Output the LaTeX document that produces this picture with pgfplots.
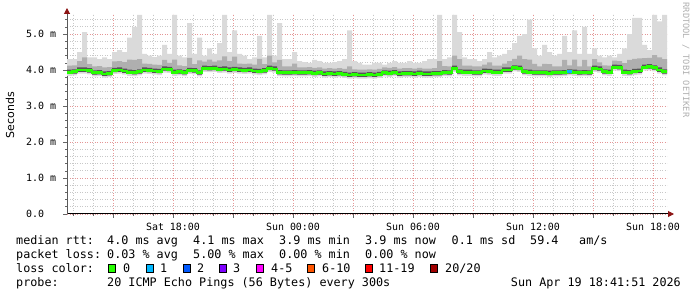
\documentclass[border=0pt]{standalone}
\usepackage{fontspec}
\setmainfont{DejaVu Sans Mono}
\newfontfamily\dvsans{DejaVu Sans}
\usepackage{pgfplots}
\pgfplotsset{compat=1.18}
\usepackage{pgfplotstable}
\usepgfplotslibrary{fillbetween}
\usetikzlibrary{arrows.meta}
\definecolor{smokeL}{RGB}{218,218,218}
\definecolor{smokeM}{RGB}{175,175,175}
\definecolor{smokeD}{RGB}{85,85,85}
\definecolor{lc0}{HTML}{26FF00}
\definecolor{lc1}{HTML}{00B8FF}
\definecolor{lc2}{HTML}{0059FF}
\definecolor{lc3}{HTML}{7E00FF}
\definecolor{lc4}{HTML}{FF00FF}
\definecolor{lc6}{HTML}{FF5500}
\definecolor{lc11}{HTML}{FF0000}
\definecolor{lc20}{HTML}{A10000}
\definecolor{mgrid}{RGB}{228,150,150}
\definecolor{mingrid}{RGB}{200,200,200}
\definecolor{arrowred}{RGB}{140,20,20}
\definecolor{wmark}{RGB}{175,175,175}

\pgfplotstableread{
x med lo dlo dk md hi
12.70 3.94 3.84 3.89 4.01 4.12 4.30
12.95 3.95 3.85 3.90 4.02 4.13 4.30
13.20 4.00 3.90 3.95 4.07 4.25 4.50
13.45 4.00 3.90 3.95 4.07 4.35 5.05
13.70 3.98 3.88 3.93 4.05 4.16 4.35
13.95 3.92 3.82 3.87 3.99 4.10 4.35
14.20 3.93 3.83 3.88 4.00 4.11 4.30
14.45 3.89 3.79 3.84 3.96 4.07 4.35
14.70 3.90 3.80 3.85 3.97 4.08 4.30
14.95 3.99 3.89 3.94 4.06 4.24 4.50
15.20 4.00 3.90 3.95 4.07 4.25 4.55
15.45 3.97 3.87 3.92 4.04 4.22 4.50
15.70 3.94 3.84 3.89 4.01 4.29 4.90
15.95 3.93 3.83 3.88 4.00 4.28 5.20
16.20 3.95 3.85 3.90 4.02 4.30 5.53
16.45 4.00 3.90 3.95 4.07 4.18 4.45
16.70 3.99 3.89 3.94 4.06 4.17 4.40
16.95 3.97 3.87 3.92 4.04 4.15 4.36
17.20 3.96 3.86 3.91 4.03 4.14 4.40
17.45 4.03 3.93 3.98 4.10 4.28 4.70
17.70 4.02 3.92 3.97 4.09 4.20 4.45
17.95 3.94 3.84 3.89 4.01 4.29 5.53
18.20 3.95 3.85 3.90 4.02 4.13 4.40
18.45 3.93 3.83 3.88 4.00 4.11 4.35
18.70 3.99 3.89 3.94 4.06 4.34 5.30
18.95 3.98 3.88 3.93 4.05 4.16 4.45
19.20 3.92 3.82 3.87 3.99 4.27 4.90
19.45 4.05 3.95 4.00 4.12 4.23 4.40
19.70 4.04 3.94 3.99 4.11 4.29 4.60
19.95 4.05 3.95 4.00 4.12 4.23 4.45
20.20 4.02 3.92 3.97 4.09 4.27 4.75
20.45 4.03 3.93 3.98 4.10 4.38 5.53
20.70 4.00 3.90 3.95 4.07 4.25 4.50
20.95 4.02 3.92 3.97 4.09 4.37 5.10
21.20 4.00 3.90 3.95 4.07 4.18 4.45
21.45 3.99 3.89 3.94 4.06 4.17 4.40
21.70 4.00 3.90 3.95 4.07 4.18 4.30
21.95 3.97 3.87 3.92 4.04 4.15 4.35
22.20 3.96 3.86 3.91 4.03 4.31 4.95
22.45 3.98 3.88 3.93 4.05 4.16 4.35
22.70 4.05 3.95 4.00 4.12 4.40 5.53
22.95 4.03 3.93 3.98 4.10 4.21 4.40
23.20 3.93 3.83 3.88 4.00 4.28 5.30
23.45 3.92 3.82 3.87 3.99 4.10 4.30
23.70 3.92 3.82 3.87 3.99 4.10 4.30
23.95 3.93 3.83 3.88 4.00 4.18 4.50
24.20 3.92 3.82 3.87 3.99 4.07 4.25
24.45 3.92 3.82 3.87 3.99 4.07 4.22
24.70 3.93 3.83 3.88 4.00 4.08 4.20
24.95 3.91 3.81 3.86 3.98 4.06 4.28
25.20 3.92 3.82 3.87 3.99 4.07 4.25
25.45 3.89 3.79 3.84 3.96 4.04 4.20
25.70 3.90 3.80 3.85 3.97 4.05 4.20
25.95 3.89 3.79 3.84 3.96 4.04 4.22
26.20 3.90 3.80 3.85 3.97 4.05 4.25
26.45 3.88 3.78 3.83 3.95 4.03 4.30
26.70 3.86 3.76 3.81 3.93 4.10 5.10
26.95 3.87 3.77 3.82 3.94 4.02 4.25
27.20 3.86 3.76 3.81 3.93 4.01 4.20
27.45 3.86 3.76 3.81 3.93 4.01 4.15
27.70 3.87 3.77 3.82 3.94 4.02 4.15
27.95 3.86 3.76 3.81 3.93 4.01 4.20
28.20 3.88 3.78 3.83 3.95 4.03 4.20
28.45 3.92 3.82 3.87 3.99 4.07 4.15
28.70 3.91 3.81 3.86 3.98 4.06 4.20
28.95 3.93 3.83 3.88 4.00 4.08 4.25
29.20 3.89 3.79 3.84 3.96 4.04 4.20
29.45 3.90 3.80 3.85 3.97 4.05 4.20
29.70 3.90 3.80 3.85 3.97 4.05 4.25
29.95 3.89 3.79 3.84 3.96 4.04 4.20
30.20 3.91 3.81 3.86 3.98 4.06 4.20
30.45 3.89 3.79 3.84 3.96 4.04 4.25
30.70 3.89 3.79 3.84 3.96 4.04 4.30
30.95 3.90 3.80 3.85 3.97 4.05 4.30
31.20 3.90 3.80 3.85 3.97 4.25 5.53
31.45 3.93 3.83 3.88 4.00 4.11 4.30
31.70 3.92 3.82 3.87 3.99 4.10 4.35
31.95 4.05 3.95 4.00 4.12 4.40 5.53
32.20 3.95 3.85 3.90 4.02 4.30 5.05
32.45 3.94 3.84 3.89 4.01 4.12 4.35
32.70 3.94 3.84 3.89 4.01 4.12 4.30
32.95 3.92 3.82 3.87 3.99 4.10 4.30
33.20 3.92 3.82 3.87 3.99 4.10 4.25
33.45 3.97 3.87 3.92 4.04 4.15 4.30
33.70 3.96 3.86 3.91 4.03 4.21 4.50
33.95 3.94 3.84 3.89 4.01 4.12 4.35
34.20 3.94 3.84 3.89 4.01 4.12 4.40
34.45 4.00 3.90 3.95 4.07 4.18 4.45
34.70 4.00 3.90 3.95 4.07 4.25 4.55
34.95 4.06 3.96 4.01 4.13 4.31 4.75
35.20 4.05 3.95 4.00 4.12 4.40 4.95
35.45 3.95 3.85 3.90 4.02 4.30 5.00
35.70 3.94 3.84 3.89 4.01 4.29 5.40
35.95 3.92 3.82 3.87 3.99 4.17 4.60
36.20 3.92 3.82 3.87 3.99 4.10 4.40
36.45 3.92 3.82 3.87 3.99 4.17 4.70
36.70 3.91 3.81 3.86 3.98 4.16 4.50
36.95 3.92 3.82 3.87 3.99 4.10 4.40
37.20 3.92 3.82 3.87 3.99 4.10 4.45
37.45 3.93 3.83 3.88 4.00 4.28 4.95
37.70 3.95 3.85 3.90 4.02 4.13 4.50
37.95 3.94 3.84 3.89 4.01 4.29 5.10
38.20 3.92 3.82 3.87 3.99 4.10 4.45
38.45 3.93 3.83 3.88 4.00 4.28 5.20
38.70 3.92 3.82 3.87 3.99 4.10 4.45
38.95 4.05 3.95 4.00 4.12 4.30 4.60
39.20 4.03 3.93 3.98 4.10 4.21 4.40
39.45 3.95 3.85 3.90 4.02 4.13 4.35
39.70 3.94 3.84 3.89 4.01 4.12 4.40
39.95 4.08 3.98 4.03 4.15 4.26 4.35
40.20 4.07 3.97 4.02 4.14 4.25 4.45
40.45 3.94 3.84 3.89 4.01 4.19 4.60
40.70 3.93 3.83 3.88 4.00 4.28 5.00
40.95 3.96 3.86 3.91 4.03 4.31 5.45
41.20 3.97 3.87 3.92 4.04 4.32 5.45
41.45 4.08 3.98 4.03 4.15 4.33 4.70
41.70 4.09 3.99 4.04 4.16 4.34 4.55
41.95 4.06 3.96 4.01 4.13 4.41 5.53
42.20 4.00 3.90 3.95 4.07 4.35 5.35
42.45 3.95 3.85 3.90 4.02 4.30 5.53
42.70 3.95 3.85 3.90 4.02 4.30 5.53
}\smoke

\pgfplotstableread{
x med
37.70 3.95
37.95 3.95
}\lossone

\begin{document}
\begin{tikzpicture}
\begin{axis}[
  at={(67bp,83bp)}, anchor=south west, scale only axis,
  width=600bp, height=200bp,
  xmin=12.7, xmax=42.7, ymin=0, ymax=5.556,
  axis x line=bottom, axis y line=left,
  every outer x axis line/.style={draw=black, line width=1bp, shorten >=-7bp, -{Triangle[length=6bp,width=6bp,color=arrowred]}},
  every outer y axis line/.style={draw=black!65, line width=1bp, shorten >=-6bp, -{Triangle[length=6bp,width=6bp,color=arrowred]}},
  xtick={15,18,21,24,27,30,33,36,39,42},
  xticklabels={,Sat 18:00,,Sun 00:00,,Sun 06:00,,Sun 12:00,,Sun 18:00},
  minor xtick={13,14,16,17,19,20,22,23,25,26,28,29,31,32,34,35,37,38,40,41},
  ytick={0,1,2,3,4,5},
  yticklabels={0.0,1.0 m,2.0 m,3.0 m,4.0 m,5.0 m},
  minor ytick={0.2,0.4,0.6,0.8,1.2,1.4,1.6,1.8,2.2,2.4,2.6,2.8,3.2,3.4,3.6,3.8,4.2,4.4,4.6,4.8,5.2,5.4},
  grid=both,
  major grid style={draw=mgrid, line width=0.8bp, dash pattern=on 1bp off 1.5bp},
  minor grid style={draw=mingrid, line width=0.8bp, dash pattern=on 1bp off 1.5bp},
  tick align=outside,
  major tick length=4bp, minor tick length=2bp,
  tick style={draw=black!60, line width=0.6bp},
  ticklabel style={font=\fontsize{10}{12}\selectfont, inner sep=0pt},
  yticklabel style={anchor=west, xshift=-37bp},
  xticklabel style={anchor=north, yshift=-5bp},
]
\addplot[name path=lo, draw=none, const plot, forget plot] table[x=x,y=lo]{\smoke};
\addplot[name path=hi, draw=none, const plot, forget plot] table[x=x,y=hi]{\smoke};
\addplot[name path=dlo, draw=none, const plot, forget plot] table[x=x,y=dlo]{\smoke};
\addplot[name path=md, draw=none, const plot, forget plot] table[x=x,y=md]{\smoke};
\addplot[name path=dk, draw=none, const plot, forget plot] table[x=x,y=dk]{\smoke};
\addplot[fill=smokeL, draw=none] fill between[of=hi and lo];
\addplot[fill=smokeM, draw=none] fill between[of=md and dlo];
\addplot[fill=smokeD, draw=none] fill between[of=dk and dlo];
\addplot[const plot, draw=lc0, line width=2.8bp] table[x=x,y=med]{\smoke};
\addplot[const plot, draw=lc1, line width=2.8bp] table[x=x,y=med]{\lossone};
\end{axis}

% axis label and watermark
\node[rotate=90, inner sep=0pt, font=\dvsans\fontsize{11}{13}\selectfont] at (10bp,182bp) {Seconds};
\node[rotate=-90, inner sep=0pt, text=wmark, font=\fontsize{8.7}{10}\selectfont] at (686bp,237bp) {RRDTOOL / TOBI OETIKER};

% legend text
\begin{scope}[every node/.style={anchor=base west, inner sep=0pt, font=\fontsize{11.8}{14}\selectfont}]
\node at (16bp,52.7bp) {median rtt:};
\node at (107bp,52.7bp) {4.0 ms avg};
\node at (193bp,52.7bp) {4.1 ms max};
\node at (279bp,52.7bp) {3.9 ms min};
\node at (365bp,52.7bp) {3.9 ms now};
\node at (451.5bp,52.7bp) {0.1 ms sd};
\node at (530bp,52.7bp) {59.4};
\node at (579bp,52.7bp) {am/s};
\node at (16bp,38.5bp) {packet loss:};
\node at (107bp,38.5bp) {0.03 \% avg};
\node at (193bp,38.5bp) {5.00 \% max};
\node at (279bp,38.5bp) {0.00 \% min};
\node at (365bp,38.5bp) {0.00 \% now};
\node at (16bp,24.3bp) {loss color:};
\node at (123bp,24.3bp) {0};
\node at (160bp,24.3bp) {1};
\node at (197bp,24.3bp) {2};
\node at (233bp,24.3bp) {3};
\node at (271bp,24.3bp) {4-5};
\node at (322bp,24.3bp) {6-10};
\node at (379bp,24.3bp) {11-19};
\node at (445bp,24.3bp) {20/20};
\node at (16bp,10.3bp) {probe:};
\node at (107bp,10.3bp) {20 ICMP Echo Pings (56 Bytes) every 300s};
\node[anchor=base east] at (681bp,10.3bp) {Sun Apr 19 18:41:51 2026};
\end{scope}
\foreach \bx/\bc in {108/lc0,146/lc1,183/lc2,219/lc3,256/lc4,307/lc6,365/lc11,430/lc20}{
  \filldraw[fill=\bc, draw=black, line width=0.7bp] (\bx bp,24.8bp) rectangle ++(7.5bp,7.5bp);
}
\pgfresetboundingbox
\path[use as bounding box] (0,0) rectangle (697bp,297bp);
\end{tikzpicture}
\end{document}
